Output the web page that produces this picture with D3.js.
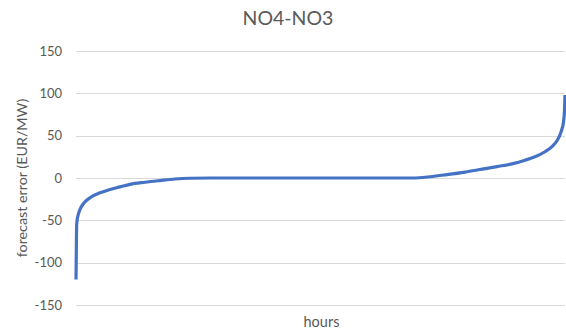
<!DOCTYPE html>
<html>
<head>
<meta charset="utf-8">
<script src="https://cdn.jsdelivr.net/npm/d3@7"></script>
<style>
  html, body { margin: 0; padding: 0; background: #fff; }
  svg { display: block; font-family: Lato, "Open Sans", "Liberation Sans", sans-serif; }
</style>
</head>
<body>
<svg id="chart" width="566" height="334"></svg>
<script>
// Sorted forecast errors over the hours of the year (duration curve)
const hours = [0, 5, 12, 27, 45, 72, 125, 197, 305, 430, 609, 788, 967, 1236, 1505, 1773, 2042, 2400,
  3500, 4500, 5500, 6037, 6342, 6646, 6969, 7237, 7542, 7828, 8043, 8222, 8401, 8527, 8616, 8670,
  8706, 8733, 8751, 8760];
const errors = [-120, -90, -55, -47, -42, -37, -31, -26, -21, -17.5, -13.5, -10.5, -7.5, -5, -3, -1.2, -0.3, 0,
  0, 0, 0, 0, 1.5, 4, 7, 10, 13.5, 17, 21, 25, 31, 37, 44, 51,
  58, 66, 80, 98];
const yTicks = [-150, -100, -50, 0, 50, 100, 150];

const chartTitle = "NO4-NO3";
const yTitle = "forecast error (EUR/MW)";
const xTitle = "hours";

const svg = d3.select("#chart");
const plotLeft = 76, plotRight = 565, plotTop = 51, plotBottom = 305;

const x = d3.scaleLinear().domain([0, 8760]).range([plotLeft, plotRight]);
const y = d3.scaleLinear().domain([-150, 150]).range([plotBottom, plotTop]);

// horizontal gridlines
svg.append("g")
  .selectAll("line")
  .data(yTicks)
  .join("line")
  .attr("x1", plotLeft).attr("x2", plotRight)
  .attr("y1", d => Math.round(y(d)) + 0.5).attr("y2", d => Math.round(y(d)) + 0.5)
  .attr("stroke", "#d9d9d9").attr("stroke-width", 1);

// y axis labels (plain hyphen for negatives)
const yAxis = d3.axisLeft(y).tickValues(yTicks).tickFormat(d => String(d)).tickSize(0).tickPadding(0);
const gy = svg.append("g").attr("transform", `translate(${plotLeft - 14},0)`).call(yAxis);
gy.select(".domain").remove();
gy.selectAll("text").attr("fill", "#595959").style("font-size", "13px")
  .style("font-family", "Lato, 'Open Sans', sans-serif");

// the curve
const pts = hours.map((h, i) => [h, errors[i]]);
svg.append("path")
  .datum(pts)
  .attr("fill", "none")
  .attr("stroke", "#4472c4")
  .attr("stroke-width", 3.2)
  .attr("stroke-linejoin", "round")
  .attr("d", d3.line().x(d => x(d[0])).y(d => y(d[1])).curve(d3.curveMonotoneX));

// titles
svg.append("text")
  .attr("x", 288).attr("y", 25)
  .attr("text-anchor", "middle")
  .attr("fill", "#595959")
  .style("font-size", "19.5px")
  .text(chartTitle);

svg.append("text")
  .attr("transform", `translate(27,178) rotate(-90)`)
  .attr("text-anchor", "middle")
  .attr("fill", "#595959")
  .style("font-size", "14.3px")
  .text(yTitle);

svg.append("text")
  .attr("x", 321.5).attr("y", 327)
  .attr("text-anchor", "middle")
  .attr("fill", "#595959")
  .style("font-size", "14.5px")
  .text(xTitle);
</script>
</body>
</html>
